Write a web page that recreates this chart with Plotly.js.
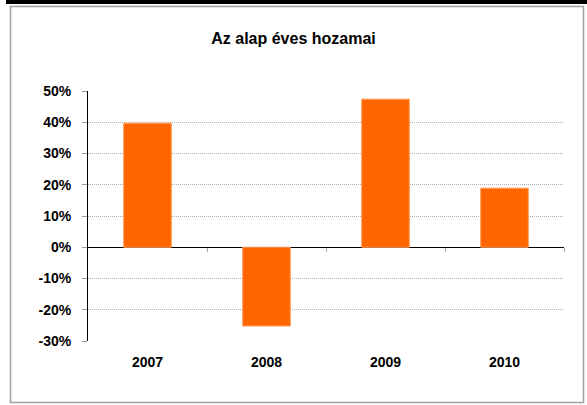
<!DOCTYPE html>
<html><head><meta charset="utf-8">
<script src="https://cdn.plot.ly/plotly-3.0.1.min.js"></script>
<style>html,body{margin:0;padding:0;background:#fff}#c{width:587px;height:405px}</style>
</head><body><div id="c"></div>
<script>
const title = "Az alap éves hozamai";
const years = ["2007", "2008", "2009", "2010"];
const returns = [39.7, -25.2, 47.4, 18.9];
const yTicks = [-30, -20, -10, 0, 10, 20, 30, 40, 50];
const yTickText = yTicks.map(v => v + "%");

const fam = "Liberation Sans, Arial, sans-serif";
const L = 88, R = 564, T = 91, B = 341;
const pw = R - L, ph = B - T;
const px = v => (v - L) / pw;
const py = v => (B - v) / ph;

Plotly.newPlot("c", [{
  type: "bar",
  x: years,
  y: returns,
  marker: {color: "#FF6600", line: {color: "#FF9A55", width: 1}},
  hoverinfo: "skip"
}, {
  type: "scatter", x: [], y: [], xaxis: "x2", yaxis: "y", hoverinfo: "skip"
}], {
  width: 587, height: 405,
  margin: {l: L, r: 587 - R, t: T, b: 405 - B},
  paper_bgcolor: "#fff", plot_bgcolor: "#fff",
  bargap: 0.6,
  showlegend: false,
  title: {text: "<b>" + title + "</b>", font: {family: fam, size: 16, color: "#000"}, x: 0.5, xanchor: "center", y: 1 - 38 / 405, yanchor: "middle"},
  xaxis: {
    type: "category",
    showgrid: false, showline: false, zeroline: false, ticks: "",
    tickfont: {family: fam, size: 14, color: "#000", weight: "bold"},
    ticklabelstandoff: 11
  },
  xaxis2: {
    overlaying: "x", anchor: "free", position: 0.375,
    type: "linear", range: [-0.5, 3.5],
    tickvals: [0.5, 1.5, 2.5, 3.5],
    ticks: "outside", ticklen: 4, tickcolor: "#aaa", tickwidth: 1,
    showticklabels: false, showgrid: false, showline: false, zeroline: false
  },
  yaxis: {
    range: [-30, 50],
    tickvals: yTicks, ticktext: yTickText,
    ticks: "outside", ticklen: 5, tickcolor: "#999", tickwidth: 1,
    showline: true, linecolor: "#000", linewidth: 1,
    gridcolor: "#b0b0b0", gridwidth: 1, griddash: "1px,1px",
    zeroline: true, zerolinecolor: "#000", zerolinewidth: 1.5,
    tickfont: {family: fam, size: 14, color: "#000", weight: "bold"},
    ticklabelstandoff: 8
  },
  shapes: [
    {type: "rect", xref: "paper", yref: "paper", x0: px(10.5), x1: px(583.5), y0: py(402.5), y1: py(6.5), line: {color: "#a0a0a0", width: 1.5}, fillcolor: "rgba(0,0,0,0)", layer: "below"},
    {type: "line", xref: "paper", yref: "paper", x0: px(6), x1: px(587), y0: py(2), y1: py(2), line: {color: "#000", width: 4}}
  ]
}, {staticPlot: true});
</script></body></html>
